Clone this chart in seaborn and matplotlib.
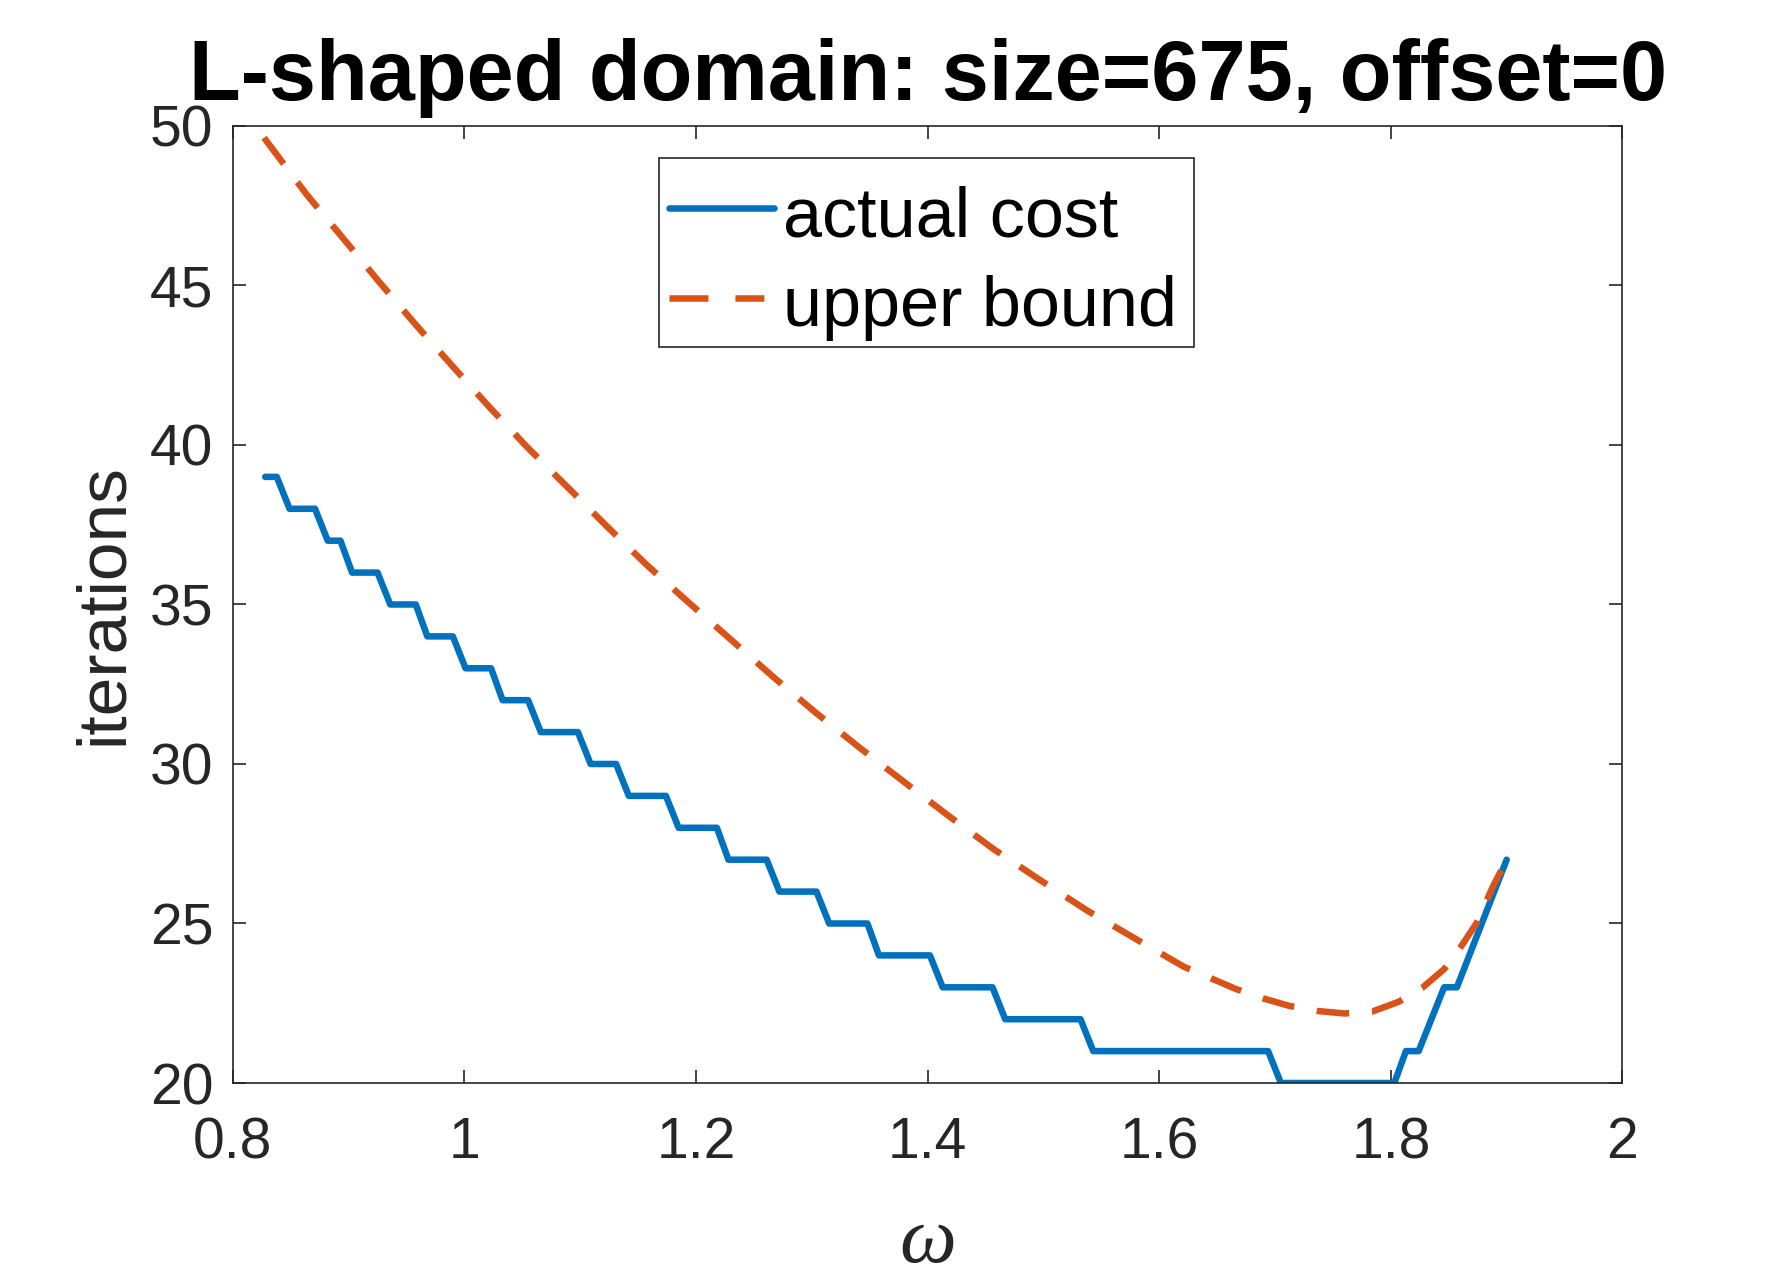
import matplotlib
matplotlib.use("Agg")
import matplotlib.pyplot as plt
from matplotlib.patches import Rectangle
import seaborn as sns

# actual cost: corner points of the staircase
omega_actual = [0.828, 0.838, 0.849, 0.871, 0.882, 0.893, 0.903, 0.925, 0.936, 0.958,
                0.968, 0.990, 1.001, 1.023, 1.033, 1.055, 1.066, 1.098, 1.109, 1.131,
                1.142, 1.174, 1.185, 1.218, 1.228, 1.261, 1.272, 1.304, 1.315, 1.348,
                1.358, 1.402, 1.413, 1.456, 1.467, 1.532, 1.543, 1.694, 1.705, 1.803,
                1.813, 1.824, 1.846, 1.857, 1.900]
iters_actual = [39, 39, 38, 38, 37, 37, 36, 36, 35, 35,
                34, 34, 33, 33, 32, 32, 31, 31, 30, 30,
                29, 29, 28, 28, 27, 27, 26, 26, 25, 25,
                24, 24, 23, 23, 22, 22, 21, 21, 20, 20,
                21, 21, 23, 23, 27]

# upper bound (dashed curve)
omega_bound = [0.827, 0.864, 0.895, 0.926, 0.957, 0.990, 1.021, 1.054, 1.089, 1.123,
               1.158, 1.194, 1.231, 1.267, 1.304, 1.342, 1.381, 1.419, 1.457, 1.498,
               1.538, 1.580, 1.621, 1.666, 1.690, 1.712, 1.736, 1.760, 1.784, 1.807,
               1.827, 1.846, 1.861, 1.874, 1.888, 1.900]
iters_bound = [49.63, 47.84, 46.49, 45.13, 43.81, 42.46, 41.21, 39.94, 38.68, 37.45,
               36.22, 35.05, 33.87, 32.72, 31.59, 30.49, 29.40, 28.35, 27.33, 26.34,
               25.40, 24.51, 23.65, 22.95, 22.65, 22.42, 22.26, 22.18, 22.24, 22.55,
               22.98, 23.57, 24.30, 25.01, 26.15, 27.00]

x_ticks = [0.8, 1.0, 1.2, 1.4, 1.6, 1.8, 2.0]
y_ticks = [20, 25, 30, 35, 40, 45, 50]
series_names = ["actual cost", "upper bound"]
title = "L-shaped domain: size=675, offset=0"

sns.set_theme(style="white")
plt.rcParams['font.family'] = ['Liberation Sans', 'DejaVu Sans']

dark = "#262626"
fig = plt.figure(figsize=(17.92, 12.8), dpi=100)
ax = fig.add_axes([0.1299, 0.1539, 0.7755, 0.7477])

sns.lineplot(x=omega_actual, y=iters_actual, ax=ax, color="#0072BD", linewidth=4.7,
             sort=False, estimator=None, label=series_names[0])
sns.lineplot(x=omega_bound, y=iters_bound, ax=ax, color="#D95319", linewidth=4.7,
             sort=False, estimator=None, label=series_names[1],
             linestyle=(0, (5.0, 3.5)))

ax.set_xlim(0.8, 2.0)
ax.set_ylim(20, 50)
ax.set_xticks(x_ticks)
ax.set_xticklabels([f"{v:g}" for v in x_ticks])
ax.set_yticks(y_ticks)
ax.set_yticklabels([f"{v:g}" for v in y_ticks])

ax.tick_params(axis="both", direction="in", length=9.4, width=1.2, color=dark,
               labelcolor=dark, labelsize=41, top=True, right=True,
               bottom=True, left=True)
ax.tick_params(axis="x", pad=24)
ax.tick_params(axis="y", pad=14)
for sp in ax.spines.values():
    sp.set_visible(True)
    sp.set_color(dark)
    sp.set_linewidth(1.2)

ax.set_title(title, fontsize=61, fontweight="bold", color="black", pad=19)
ax.set_ylabel("iterations", fontsize=50, color=dark, va="baseline")
ax.yaxis.set_label_coords(-0.080, 0.5)
ax.set_xlabel("ω", fontsize=58, color=dark, va="baseline",
              family=["Liberation Serif", "DejaVu Serif"], fontstyle="italic")
ax.xaxis.set_label_coords(0.5, -0.187)

# legend box drawn separately so the padding can be uneven like the original
ax.add_patch(Rectangle((0.3069, 0.7694), 0.3847, 0.1968, transform=ax.transAxes,
                       facecolor="white", edgecolor=dark, linewidth=1.2, zorder=4.5))
leg = ax.legend(loc="upper left", bbox_to_anchor=(0.3139, 0.9419), borderaxespad=0,
                fontsize=50.5, handlelength=1.49, handletextpad=0.14,
                labelspacing=0.34, borderpad=0, frameon=False)
leg.set_zorder(5)
for txt in leg.get_texts():
    txt.set_color("black")
    txt.set_position((0, -4))
leg.get_lines()[1].set_linestyle((0, (5.97, 4.13, 4.44, 10)))

fig.savefig("out.png", dpi=100, facecolor="white")
